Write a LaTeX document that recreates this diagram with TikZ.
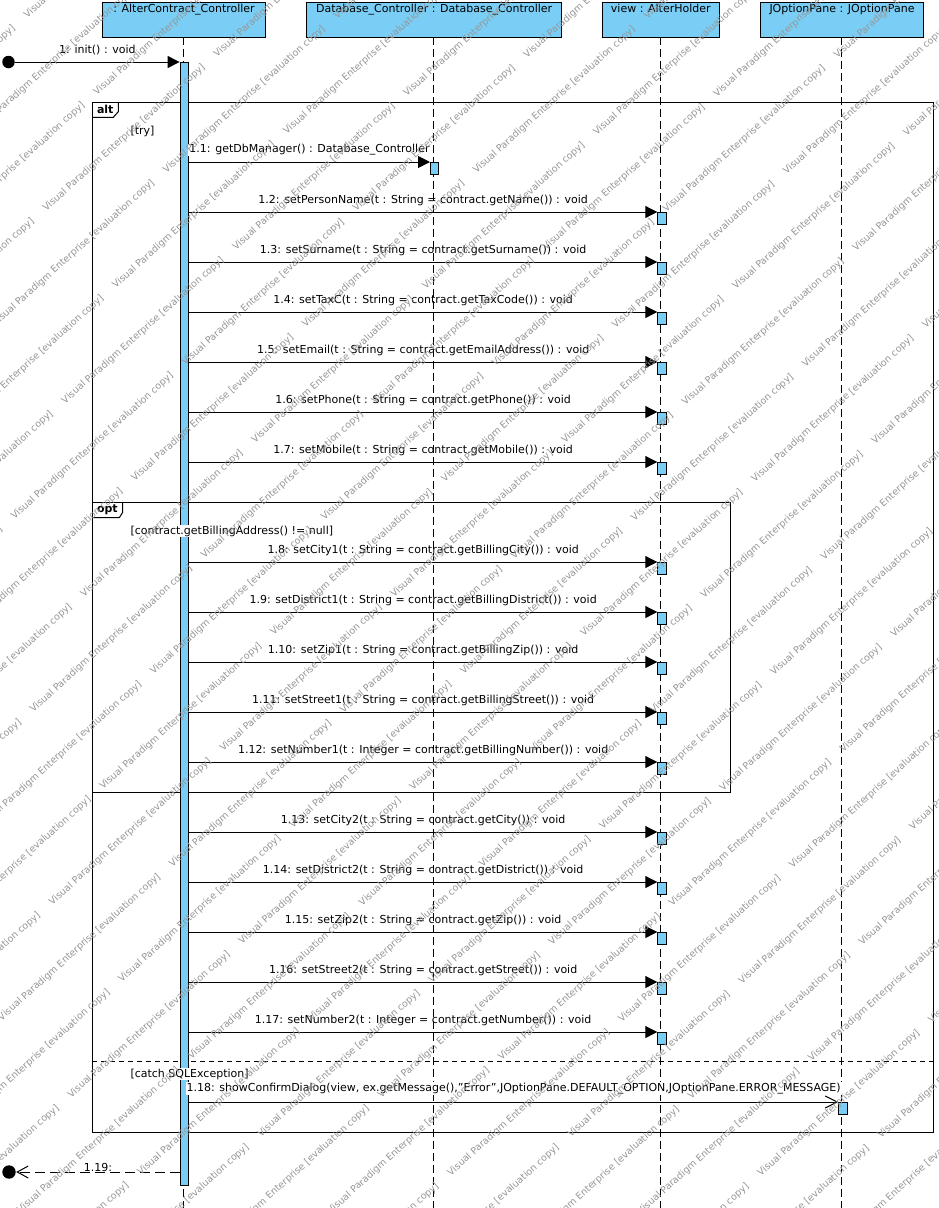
\documentclass[tikz,border=0pt]{standalone}
\usepackage{fontspec}
\setmainfont{DejaVu Sans}
\usetikzlibrary{arrows.meta,calc}
\definecolor{vpblue}{RGB}{122,206,245}
\definecolor{wmgray}{RGB}{150,150,150}
\begin{document}
\begin{tikzpicture}[x=1pt,y=-1pt,line width=1pt,
  font=\fontsize{11}{13}\selectfont,
  head/.style={draw,fill=vpblue,minimum height=34.7pt,inner sep=0pt},
  headtext/.style={anchor=north,inner sep=2pt},
  act/.style={draw,fill=vpblue,minimum width=8.4pt,minimum height=12pt,inner sep=0pt},
  life/.style={dash pattern=on 8pt off 4pt},
  msg/.style={-{Triangle[length=12pt,width=12pt]}},
  openmsg/.style={-{Straight Barb[length=12pt,width=12pt]}},
  ret/.style={dash pattern=on 10pt off 5pt,-{Straight Barb[length=11pt,width=12pt]}},
  lab/.style={midway,yshift=12pt,inner sep=1pt},
  guard/.style={anchor=west,fill=white,inner sep=1pt},
  frame/.style={draw,anchor=north west,inner sep=0pt},
  tabtext/.style={anchor=west,inner sep=0pt,font=\fontsize{11}{13}\selectfont\bfseries},
  sepline/.style={dash pattern=on 5pt off 4pt},
  wmk/.style={text=wmgray,anchor=base west,rotate=42,inner sep=0pt,font=\fontsize{9.5}{11}\selectfont}]

\fill[white] (0,0) rectangle (938,1208);
\useasboundingbox (0,0) rectangle (938,1208);
\coordinate (bot) at (0,1208);

% frames
\node[frame,minimum width=841pt,minimum height=1029.4pt] (alt) at (92.3,102.3) {};
\draw ($(alt.north west)+(26,0)$) -- ++(0,9.4) -- ++(-5,5.6) -- ($(alt.north west)+(0,15)$);
\node[tabtext] (altl) at (96.5,109.5) {alt};
\node[frame,minimum width=637.7pt,minimum height=290pt] (opt) at (92.3,502.3) {};
\draw ($(opt.north west)+(30.4,0)$) -- ++(0,10) -- ++(-3.4,5.4) -- ($(opt.north west)+(0,15.4)$);
\node[tabtext] (optl) at (96.5,509.5) {opt};
\coordinate (s1) at (92.3,1061);
\draw[sepline] (s1) -- (s1 -| alt.east);

% heads
\node[head,minimum width=163.4pt] (hA) at (184,19.65) {};
\node[headtext] (tA) at (hA.north) {: AlterContract\_Controller};
\node[head,minimum width=255pt] (hB) at (434.2,19.65) {};
\node[headtext] (tB) at (hB.north) {Database\_Controller : Database\_Controller};
\node[head,minimum width=117pt] (hC) at (660.8,19.65) {};
\node[headtext] (tC) at (hC.north) {view : AlterHolder};
\node[head,minimum width=162.6pt] (hD) at (842,19.65) {};
\node[headtext] (tD) at (hD.north) {JOptionPane : JOptionPane};

% lifelines
\draw[life] (183.5,37) -- (183.5,1208);
\draw[life] (433.5,37) -- (433.5,1208);
\draw[life] (660.5,37) -- (660.5,1208);
\draw[life] (841.5,37) -- (841.5,1208);

% main activation
\node[act,minimum height=1122.7pt,anchor=north] (aA) at (184.3,62) {};

% found message
\node[circle,fill,inner sep=0pt,minimum size=12.5pt] (ini) at (8.5,62) {};
\draw[msg] (ini) -- node[lab] (l1) {1: init() : void} (aA.north west);

% 1.1
\node[act,anchor=north west] (db) at (430,162) {};
\draw[msg] (aA.east |- db.north west) -- node[lab,fill=white] (l11) {1.1: getDbManager() : Database\_Controller} (db.north west);

% calls to view
\foreach \y/\txt in {
  212/{1.2: setPersonName(t : String = contract.getName()) : void},
  262/{1.3: setSurname(t : String = contract.getSurname()) : void},
  312/{1.4: setTaxC(t : String = contract.getTaxCode()) : void},
  362/{1.5: setEmail(t : String = contract.getEmailAddress()) : void},
  412/{1.6: setPhone(t : String = contract.getPhone()) : void},
  462/{1.7: setMobile(t : String = contract.getMobile()) : void},
  562/{1.8: setCity1(t : String = contract.getBillingCity()) : void},
  612/{1.9: setDistrict1(t : String = contract.getBillingDistrict()) : void},
  662/{1.10: setZip1(t : String = contract.getBillingZip()) : void},
  712/{1.11: setStreet1(t : String = contract.getBillingStreet()) : void},
  762/{1.12: setNumber1(t : Integer = contract.getBillingNumber()) : void},
  832/{1.13: setCity2(t : String = contract.getCity()) : void},
  882/{1.14: setDistrict2(t : String = contract.getDistrict()) : void},
  932/{1.15: setZip2(t : String = contract.getZip()) : void},
  982/{1.16: setStreet2(t : String = contract.getStreet()) : void},
  1032/{1.17: setNumber2(t : Integer = contract.getNumber()) : void}}{
  \node[act,anchor=north west] (v\y) at (657.3,\y) {};
  \draw[msg] (aA.east |- v\y.north west) -- node[lab] (l\y) {\txt} (v\y.north west);
}

% 1.18
\node[act,anchor=north west] (jo) at (838.3,1102) {};
\draw[openmsg] (aA.east |- jo.north west) -- node[lab,yshift=1.5pt,fill=white] (l18) {1.18: showConfirmDialog(view, ex.getMessage(),"Error",JOptionPane.DEFAULT\_OPTION,JOptionPane.ERROR\_MESSAGE)} (jo.north west);

% 1.19 return
\node[circle,fill,inner sep=0pt,minimum size=13.4pt] (fin) at (9,1172) {};
\draw[ret] (aA.west |- fin) -- node[midway,yshift=5pt,fill=white,inner xsep=12pt,inner ysep=1pt] (l19) {1.19:} (fin);

% guards
\node[guard] (g1) at (129,131) {[try]};
\node[guard] (g2) at (129,531) {[contract.getBillingAddress() != null]};
\node[guard] (g3) at (129,1074) {[catch SQLException]};

% watermark
\begin{scope}
\clip (0,0) rectangle (938,1208);
\foreach \k in {-14,...,20}{
  \foreach \j in {-7,...,2}{
    \pgfmathsetmacro\wt{(\j)*230+mod((\k)+100,2)*115}
    \pgfmathsetmacro\px{666+(\k)*52*0.669+\wt*0.743}
    \pgfmathsetmacro\py{213+(\k)*52*0.743-\wt*0.669}
    \node[wmk] (wm\k_\j) at (\px,\py) {Visual Paradigm Enterprise [evaluation copy]};
  }
}
\end{scope}
\end{tikzpicture}
\end{document}
